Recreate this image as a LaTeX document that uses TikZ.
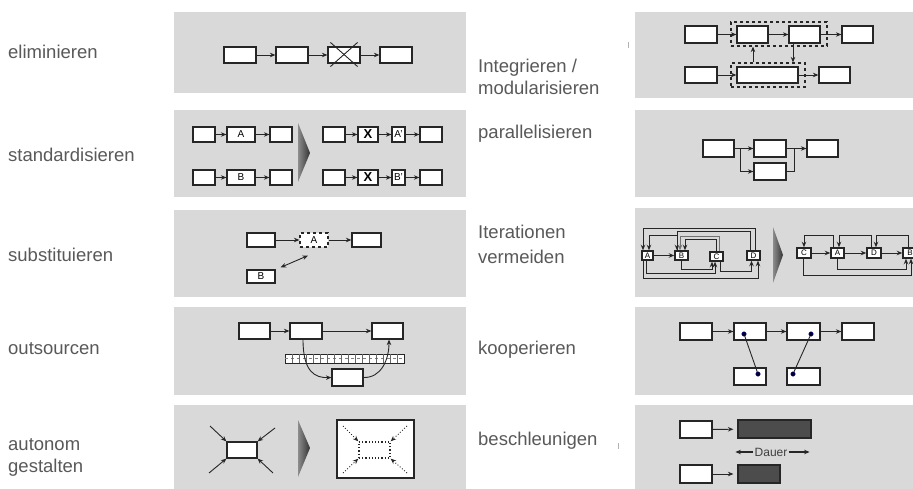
\documentclass[tikz,border=0pt]{standalone}
\usepackage{fontspec}
\setmainfont{Liberation Sans}
\usepackage{tikz}
\usetikzlibrary{arrows.meta}
\colorlet{panelgrey}{black!15}
\colorlet{textgrey}{black!65}
\colorlet{bargrey}{black!70}
\colorlet{linegrey}{black!85}

\begin{document}
\begin{tikzpicture}[x=1pt,y=-1pt,
    box/.style={draw=linegrey, line width=1.2pt, fill=white, inner sep=0pt, minimum width=32pt, minimum height=16pt, font=\fontsize{10}{11}\selectfont},
    itbox/.style={box, line width=1.5pt, minimum width=13pt, minimum height=9pt, font=\fontsize{8}{8}\selectfont},
    flow/.style={linegrey, line width=0.9pt, -{Stealth[length=5.5pt,width=4.5pt]}},
    lbl/.style={anchor=west, align=left, inner sep=0pt, text=textgrey, font=\fontsize{18.5}{22}\selectfont},
    chev/.style={left color=black!45, right color=black!80},
    dot/.style={circle, fill=black!85!blue, draw=blue!60!black, inner sep=0pt, minimum size=4.5pt}]
        \clip (0,0) rectangle (913,489);
        \fill[white] (0,0) rectangle (913,489);
        \foreach \t/\b in {12/93,110/197,210/297,307/395,405/489}{
            \fill[panelgrey] (174,\t) rectangle (466,\b);
        }
        \foreach \t/\b in {12/98,110/197,208/297,307/395,405/489}{
            \fill[panelgrey] (635,\t) rectangle (913,\b);
        }
        \draw[black!30] (628,42) -- (628,48);
        \draw[black!30] (618,443) -- (618,449);
        \node[lbl] (elim) at (8,52) {eliminieren};
        \node[lbl] (stand) at (8,155) {standardisieren};
        \node[lbl] (subst) at (8,255) {substituieren};
        \node[lbl] (outs) at (8,349) {outsourcen};
        \node[lbl] (auton) at (8,457) {autonom\\gestalten};
        \node[lbl] (integ) at (478,77) {Integrieren /\\modularisieren};
        \node[lbl] (paral) at (478,134) {parallelisieren};
        \node[lbl] (iter) at (478,244.5) {Iterationen\\[3pt]vermeiden};
        \node[lbl] (koop) at (478,350) {kooperieren};
        \node[lbl] (beschl) at (478,441) {beschleunigen};

        \foreach \i/\x in {1/240,2/292,3/344,4/396}{
            \node[box] (e\i) at (\x,55) {};
        }
        \foreach \i/\j in {1/2,2/3,3/4}{
            \draw[flow] (e\i) -- (e\j);
        }
        \draw[linegrey, line width=0.9pt] ([shift={(3,-4)}]e3.north west) -- ([shift={(-3,3)}]e3.south east);
        \draw[linegrey, line width=0.9pt] ([shift={(-3,-4)}]e3.north east) -- ([shift={(3,3)}]e3.south west);

        \foreach \r/\y/\l in {1/134.5/A,2/177.5/B}{
            \node[box, minimum width=22pt, minimum height=15pt] (sa\r) at (204,\y) {};
            \node[box, minimum width=28pt, minimum height=15pt] (sb\r) at (241,\y) {\l};
            \node[box, minimum width=22pt, minimum height=15pt] (sc\r) at (281,\y) {};
            \node[box, minimum width=22pt, minimum height=15pt] (ta\r) at (334,\y) {};
            \node[box, minimum width=20pt, minimum height=15pt, font=\bfseries\fontsize{13}{13}\selectfont] (tx\r) at (368,\y) {X};
            \node[box, minimum width=13pt, minimum height=15pt] (tb\r) at (398.5,\y) {\l'};
            \node[box, minimum width=22pt, minimum height=15pt] (tc\r) at (431,\y) {};
            \draw[flow] (sa\r) -- (sb\r);
            \draw[flow] (sb\r) -- (sc\r);
            \draw[flow] (ta\r) -- (tx\r);
            \draw[flow] (tx\r) -- (tb\r);
            \draw[flow] (tb\r) -- (tc\r);
        }
        \shade[chev] (298,123) -- (310,153) -- (298,182) -- cycle;

        \node[box, minimum width=28pt, minimum height=14pt] (su1) at (261,240) {};
        \node[box, dashed, minimum width=28pt, minimum height=14pt] (suA) at (314,240) {A};
        \node[box, minimum width=29pt, minimum height=14pt] (su3) at (366.5,240) {};
        \node[box, minimum width=28pt, minimum height=13pt] (suB) at (261,276.5) {B};
        \draw[flow] (su1) -- (suA);
        \draw[flow] (suA) -- (su3);
        \draw[flow, {Stealth[length=5.5pt,width=4.5pt]}-{Stealth[length=5.5pt,width=4.5pt]}] ([shift={(5,-2)}]suB.north east) -- ([shift={(-6,8)}]suA.south);

        \node[box, minimum width=31pt] (o1) at (254.5,331) {};
        \node[box] (o2) at (306,331) {};
        \node[box, minimum width=31pt] (o3) at (387.5,331) {};
        \node[box, minimum width=31pt, minimum height=17pt] (o4) at (347.5,377.5) {};
        \draw[flow] (o1) -- (o2);
        \draw[flow] (o2) -- (o3);
        \draw[linegrey, line width=1pt, fill=white] (285,354) rectangle (404,363);
        \draw[black!50, dashed] (285,358.5) -- (404,358.5);
        \foreach \x in {292,299,...,397}{
            \draw[black!60] (\x,354) -- (\x,363);
        }
        \draw[flow] ([xshift=-3pt]o2.south) .. controls (303,372) and (315,378) .. (o4.west);
        \draw[flow] (o4.east) .. controls (381,378) and (389,360) .. ([xshift=1.5pt]o3.south);

        \node[box, minimum width=30pt] (ab) at (242,450) {};
        \coordinate (q1) at (210,426);
        \coordinate (q2) at (275,428);
        \coordinate (q3) at (209,473);
        \coordinate (q4) at (273,473);
        \draw[flow] (q1) -- (ab.north west);
        \draw[flow] (q2) -- (ab.north east);
        \draw[flow] (q3) -- (ab.south west);
        \draw[flow] (q4) -- (ab.south east);
        \shade[chev] (298,420) -- (310,448) -- (298,477) -- cycle;
        \node[box, minimum width=77pt, minimum height=58pt] (fr) at (375.5,449) {};
        \node[box, dotted, line width=1.4pt, minimum width=31pt] (ib) at (374.5,450) {};
        \coordinate (r1) at (343,426);
        \coordinate (r2) at (407,426);
        \coordinate (r3) at (343,473);
        \coordinate (r4) at (407,473);
        \draw[flow, dotted] (r1) -- (ib.north west);
        \draw[flow, dotted] (r2) -- (ib.north east);
        \draw[flow, dotted] (r3) -- (ib.south west);
        \draw[flow, dotted] (r4) -- (ib.south east);

        \node[draw=linegrey, dashed, line width=1.2pt, minimum width=96pt, minimum height=24pt] (g1) at (779,34) {};
        \node[draw=linegrey, dashed, line width=1.2pt, minimum width=74pt, minimum height=24pt] (g2) at (768,75) {};
        \node[box, minimum height=17pt] (i1) at (701,34.5) {};
        \node[box, minimum width=31pt, minimum height=17pt] (i2) at (752.5,34.5) {};
        \node[box, minimum width=31pt, minimum height=17pt] (i3) at (804.5,34.5) {};
        \node[box, minimum width=31pt, minimum height=17pt] (i4) at (857.5,34.5) {};
        \node[box] (i5) at (701,75) {};
        \node[box, minimum width=61pt] (i6) at (767.5,75) {};
        \node[box, minimum width=31pt] (i7) at (834.5,75) {};
        \foreach \i/\j in {1/2,2/3,3/4,5/6,6/7}{
            \draw[flow] (i\i) -- (i\j);
        }
        \draw[flow] ([xshift=-15pt]g2.north) -- ([xshift=-15pt]g2.north |- g1.south);
        \draw[flow] ([xshift=-11.5pt]i3.south) -- ([xshift=-11.5pt]i3.south |- g2.north);

        \node[box, minimum width=31pt, minimum height=17pt] (p1) at (718.5,148.5) {};
        \node[box, minimum height=17pt] (p2) at (770,148.5) {};
        \node[box, minimum width=31pt, minimum height=17pt] (p3) at (822.5,148.5) {};
        \node[box, minimum height=17pt] (p4) at (770,171.5) {};
        \draw[flow] (p1) -- (p2);
        \draw[flow] (p2) -- (p3);
        \draw[flow] (p1.east) -- ++(6,0) |- (p4.west);
        \draw[linegrey, line width=0.9pt] (p4.east) -- ++(8,0) |- (p2.east);

        \node[itbox, minimum width=11pt] (ia) at (647.5,255.5) {A};
        \node[itbox] (ib) at (681.5,255.5) {B};
        \node[itbox] (ic) at (716.5,256.5) {C};
        \node[itbox] (id) at (753.5,255.5) {D};
        \draw[flow] (ia) -- (ib);
        \draw[flow] ([xshift=1.5pt]id.north) -- ++(0,-22) -| ([xshift=-4.5pt]ia.north);
        \draw[flow] ([xshift=-4.5pt]ib.north) -- ++(0,-15) -| ([xshift=1.5pt]ia.north);
        \draw[flow] ([xshift=-3.5pt]id.north) -- ++(0,-19) -| ([xshift=-4.5pt]ib.north);
        \draw[flow, black!55] ([xshift=2.5pt]ic.north) -- ++(0,-15) -| ([xshift=-1.5pt]ib.north);
        \draw[flow] ([xshift=-0.5pt]ic.north) -- ++(0,-12) -| ([xshift=3.5pt]ib.north);
        \draw[flow] ([xshift=-4pt]ia.south) -- ++(0,18) -| ([xshift=4.5pt]id.south);
        \draw[flow] ([xshift=-1pt]ia.south) -- ++(0,13) -| ([xshift=-1.5pt]ic.south);
        \draw[flow] (ib.south) -- ++(0,9) -| ([xshift=-4.5pt]ic.south);
        \draw[flow] ([xshift=3.5pt]ic.south) -- ++(0,10) -| ([xshift=-2pt]id.south);
        \shade[chev] (773,227) -- (783,255) -- (773,283) -- cycle;
        \node[itbox, minimum width=14pt, minimum height=10pt] (rc) at (804,253) {C};
        \node[itbox, minimum height=10pt] (ra) at (837.5,253) {A};
        \node[itbox, minimum width=14pt, minimum height=10pt] (rd) at (874,253) {D};
        \node[itbox, minimum width=14pt, minimum height=10pt] (rb) at (910,253) {B};
        \draw[flow] (rc) -- (ra);
        \draw[flow] (ra) -- (rd);
        \draw[flow] (rd) -- (rb);
        \draw[flow] ([xshift=-4.5pt]ra.north) -- ++(0,-12) -| (rc.north);
        \draw[flow] ([xshift=-3pt]rd.north) -- ++(0,-12) -| ([xshift=1.5pt]ra.north);
        \draw[flow] ([xshift=-2pt]rb.north) -- ++(0,-12) -| ([xshift=2pt]rd.north);
        \draw[flow] (ra.south) -- ++(0,11) -| ([xshift=-4pt]rb.south);
        \draw[flow] ([xshift=-1pt]rc.south) -- ++(0,17) -| ([xshift=1pt]rb.south);

        \node[box, minimum height=17pt] (k1) at (696,331.5) {};
        \node[box, minimum height=17pt] (k2) at (750,331.5) {};
        \node[box, minimum width=33pt, minimum height=17pt] (k3) at (803.5,331.5) {};
        \node[box, minimum height=17pt] (k4) at (858,331.5) {};
        \node[box, minimum height=17pt] (k5) at (750,376.5) {};
        \node[box, minimum width=33pt, minimum height=17pt] (k6) at (803.5,376.5) {};
        \foreach \i/\j in {1/2,2/3,3/4}{
            \draw[flow] (k\i) -- (k\j);
        }
        \node[dot] (d1) at ([shift={(-6,2.5)}]k2.center) {};
        \node[dot] (d2) at ([shift={(8,-2.5)}]k5.center) {};
        \node[dot] (d3) at ([shift={(7.5,2.5)}]k3.center) {};
        \node[dot] (d4) at ([shift={(-10.5,-2.5)}]k6.center) {};
        \draw[linegrey, line width=0.9pt] (d1) -- (d2);
        \draw[linegrey, line width=0.9pt] (d3) -- (d4);

        \node[box, minimum height=17pt] (bs1) at (696,429.5) {};
        \node[box, fill=bargrey, minimum width=73pt, minimum height=18pt] (bar1) at (774.5,429) {};
        \node[box, minimum height=18pt] (bs2) at (696,474) {};
        \node[box, fill=bargrey, minimum width=42pt, minimum height=18pt] (bar2) at (759,474) {};
        \draw[flow, shorten >=4pt] (bs1) -- (bar1);
        \draw[flow, shorten >=4pt] (bs2) -- (bar2);
        \node[inner sep=1pt, text=black!75, font=\fontsize{12}{13}\selectfont] (dauer) at (771,452) {Dauer};
        \draw[flow, line width=1.1pt] (dauer.west) -- ([xshift=-2pt]dauer.west -| bar1.west);
        \draw[flow, line width=1.1pt] (dauer.east) -- ([xshift=-2pt]dauer.east -| bar1.east);
    \end{tikzpicture}
\end{document}
